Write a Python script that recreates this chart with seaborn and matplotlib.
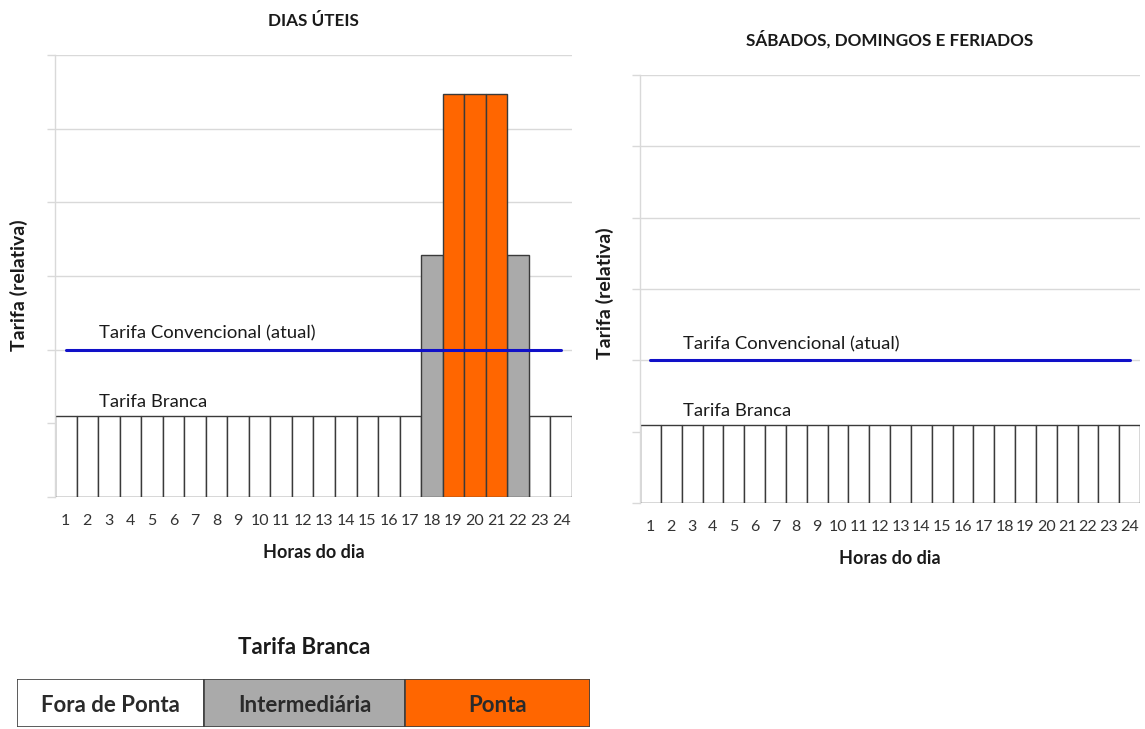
import matplotlib
matplotlib.use("Agg")
import matplotlib.pyplot as plt
import seaborn as sns
import pandas as pd
import numpy as np

# ---------------- data ----------------
hours = [str(h) for h in range(1, 25)]
weekday_tariff = [1.1] * 17 + [3.28, 5.47, 5.47, 5.47, 3.28] + [1.1] * 2
weekday_period = (["Fora de Ponta"] * 17 + ["Intermediária"] + ["Ponta"] * 3
                  + ["Intermediária"] + ["Fora de Ponta"] * 2)
weekend_tariff = [1.1] * 24
weekend_period = ["Fora de Ponta"] * 24
conventional = [2.0] * 24
periods = ["Fora de Ponta", "Intermediária", "Ponta"]
period_colors = {"Fora de Ponta": "#FFFFFF", "Intermediária": "#AAAAAA", "Ponta": "#FF6600"}
y_ticks = [0, 1, 2, 3, 4, 5, 6]

sns.set_theme(style="white")
plt.rcParams['font.family'] = ['Lato', 'DejaVu Sans']

fig = plt.figure(figsize=(11.45, 7.29), dpi=100)

grid_c = "#D9D9D9"
txt_c = "#1a1a1a"


def draw_panel(ax, tariff, period, title, ylab_y):
    df = pd.DataFrame({"hora": hours, "tarifa": tariff, "periodo": period})
    conv = pd.DataFrame({"hora": hours, "tarifa": conventional})
    ax.set_axisbelow(True)
    ax.yaxis.grid(True, color=grid_c, lw=1)
    sns.barplot(data=df, x="hora", y="tarifa", hue="periodo", palette=period_colors,
                hue_order=periods, dodge=False, width=1.0, edgecolor="#3a3a3a",
                linewidth=1.0, legend=False, ax=ax, order=hours, saturation=1)
    sns.lineplot(data=conv, x="hora", y="tarifa", color="#1010C8", lw=2.2, ax=ax,
                 sort=False)
    ax.set_xlim(-0.5, 23.5)
    ax.set_ylim(0, 6)
    ax.set_yticks(y_ticks)
    ax.set_yticklabels([])
    ax.tick_params(axis="y", length=6, color=grid_c, width=1, left=True)
    ax.tick_params(axis="x", length=0, pad=12, labelsize=11.5, labelcolor="#333333")
    for s in ["top", "right", "bottom"]:
        ax.spines[s].set_visible(False)
    ax.spines["left"].set_color(grid_c)
    ax.spines["left"].set_linewidth(1)
    ax.set_xlabel("Horas do dia", fontsize=13, fontweight="bold", color=txt_c, labelpad=12)
    ax.set_ylabel("Tarifa (relativa)", fontsize=14, fontweight="bold", color=txt_c)
    ax.yaxis.set_label_coords(-0.052, ylab_y)
    ax.set_title(title, fontsize=12.3, fontweight="bold", color=txt_c, pad=21)
    ax.text(1.55, 2.15, "Tarifa Convencional (atual)", fontsize=13.3, color=txt_c,
            va="baseline")
    ax.text(1.55, 1.22, "Tarifa Branca", fontsize=13.3, color=txt_c, va="baseline")


ax1 = fig.add_axes([0.048, 0.3182, 0.4515, 0.6064])
draw_panel(ax1, weekday_tariff, weekday_period, "DIAS ÚTEIS", 0.48)

ax2 = fig.add_axes([0.559, 0.31, 0.4367, 0.5871])
draw_panel(ax2, weekend_tariff, weekend_period, "SÁBADOS, DOMINGOS E FERIADOS", 0.49)

# ---------------- legend strip ----------------
axl = fig.add_axes([17 / 1145, 1 - 727 / 729, 573 / 1145, 48 / 729])
lefts = [0, 187, 388]
widths = [187, 201, 185]
axl.barh([0, 0, 0], widths, left=lefts, height=1.0,
         color=[period_colors[p] for p in periods], edgecolor="#404040", linewidth=1.2)
for l, w, p in zip(lefts, widths, periods):
    axl.text(l + w / 2, -0.05, p, ha="center", va="center", fontsize=16,
             fontweight="bold", color="#2a2a2a")
axl.set_xlim(0, 573)
axl.set_ylim(-0.5, 0.5)
axl.axis("off")
fig.text(304 / 1145, 1 - 648 / 729, "Tarifa Branca", ha="center", va="center",
         fontsize=16, fontweight="bold", color=txt_c)

fig.savefig("out.png", dpi=100, facecolor="white")
